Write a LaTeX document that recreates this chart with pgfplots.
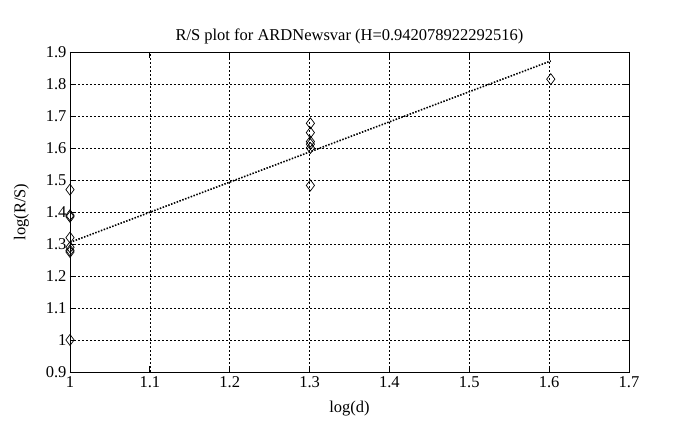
\documentclass[border=0pt]{standalone}
\usepackage{fontspec}
\setmainfont{Liberation Serif}
\usepackage{pgfplots}
\pgfplotsset{compat=1.18}
\begin{document}
\begin{tikzpicture}
\begin{axis}[
  scale only axis,
  width=559pt, height=320pt,
  xmin=1, xmax=1.7, ymin=0.9, ymax=1.9,
  xtick={1,1.1,...,1.7}, ytick={0.9,1,...,1.9},
  /pgf/number format/assume math mode=true,
  xticklabel style={/pgf/number format/fixed, /pgf/number format/precision=1, yshift=-1pt},
  yticklabel style={/pgf/number format/fixed, /pgf/number format/precision=1},
  tick label style={font=\fontsize{16.5}{18}\selectfont},
  label style={font=\fontsize{16.5}{18}\selectfont},
  xlabel style={yshift=-6pt},
  ylabel style={yshift=10pt},
  title style={font=\fontsize{16.5}{18}\selectfont, yshift=-2pt},
  title={R/S plot for ARDNewsvar (H=0.942078922292516)},
  xlabel={log(d)}, ylabel={log(R/S)},
  grid=major,
  major grid style={black, line width=0.7pt, dash pattern=on 2pt off 2pt},
  tick align=inside, major tick length=6pt,
  tick style={black, line width=0.8pt},
  axis line style={line width=0.9pt},
  clip=false,
]
\addplot[only marks, mark=diamond, mark size=5.5pt, mark options={line width=0.7pt, fill=none}] coordinates {
  (1,1.47) (1,1.39) (1,1.385) (1,1.32) (1,1.29) (1,1.28) (1,1.275) (1,1.0)
  (1.30103,1.677) (1.30103,1.648) (1.30103,1.62) (1.30103,1.612) (1.30103,1.60) (1.30103,1.483)
  (1.60206,1.815)
};
\addplot[black, line width=1.6pt, dash pattern=on 1.5pt off 1.5pt] coordinates {
  (1,1.305) (1.60206,1.872)
};
\end{axis}
\path (current axis.south west) ++(-70pt,-58pt) coordinate (bbA);
\path (current axis.north east) ++(57pt,52pt) coordinate (bbB);
\path[draw=none] (bbA) rectangle (bbB);
\end{tikzpicture}
\end{document}
